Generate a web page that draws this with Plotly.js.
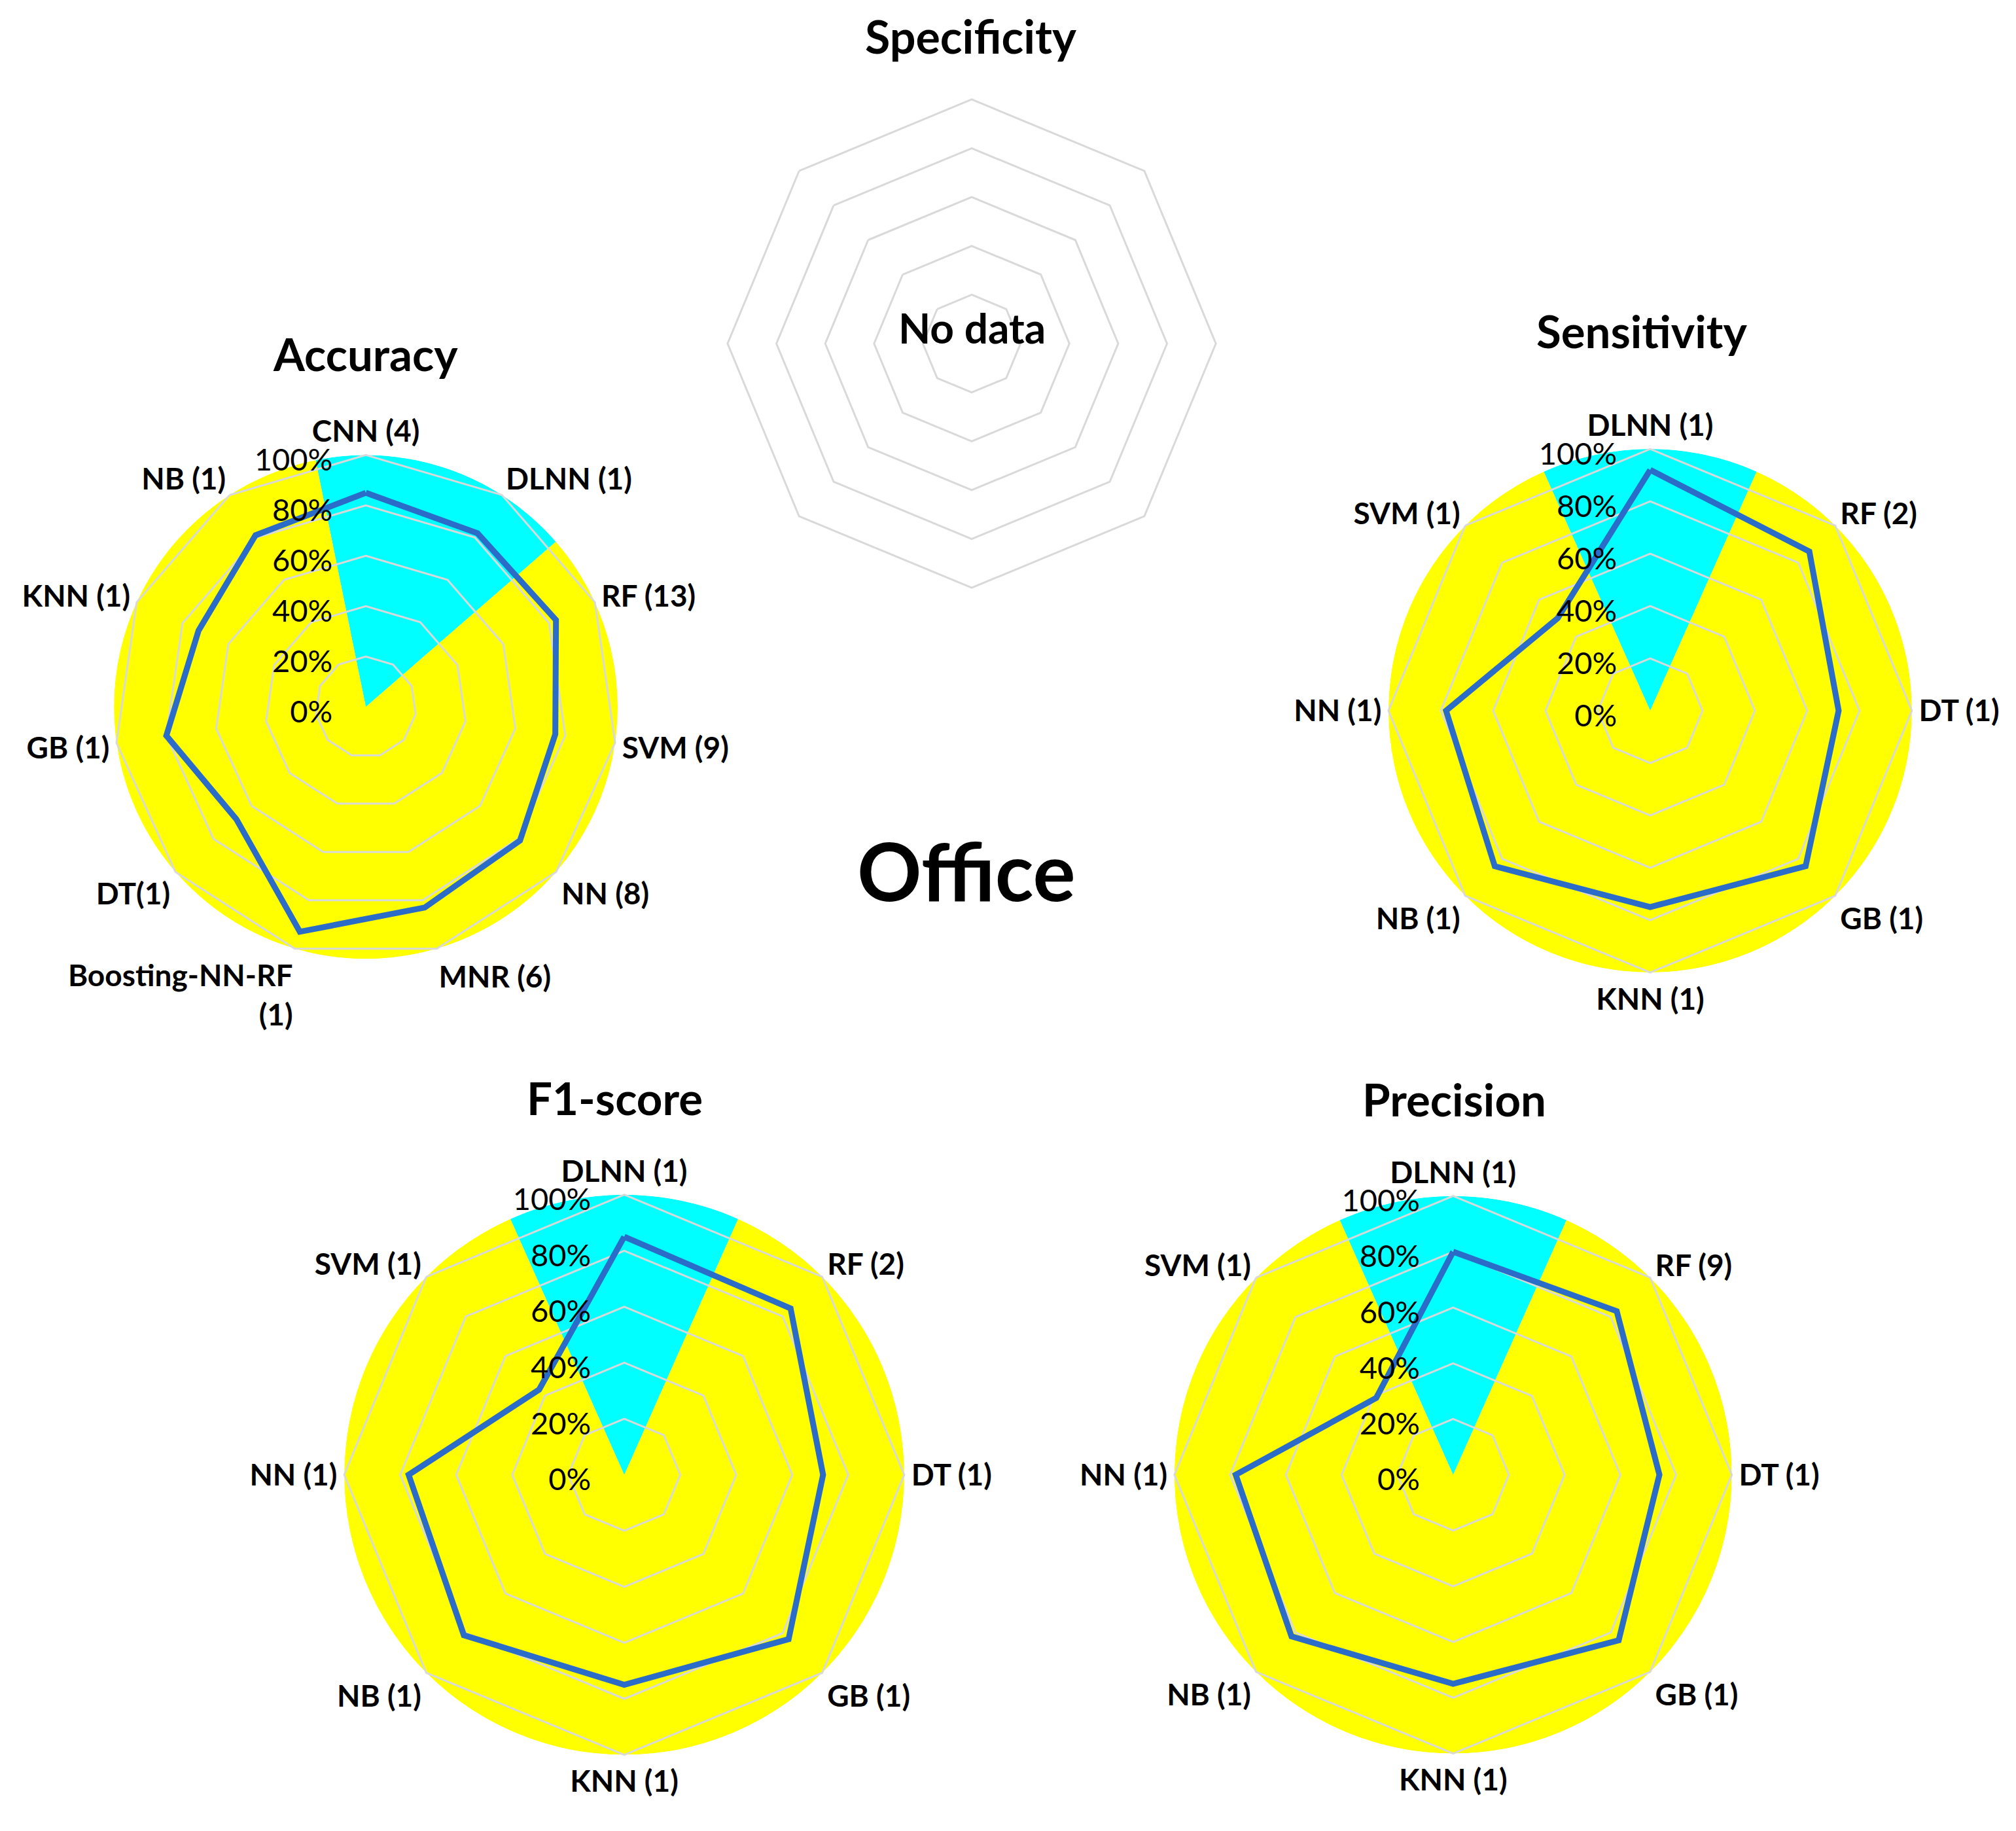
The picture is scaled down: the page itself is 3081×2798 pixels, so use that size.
<!DOCTYPE html>
<html>
<head>
<meta charset="utf-8">
<script src="https://cdn.plot.ly/plotly-3.0.1.min.js"></script>
<style>
  body { margin: 0; background: #fff; }
  #chart { width: 3081px; height: 2798px; }
</style>
</head>
<body>
<div id="chart"></div>
<script>
// values (share of 100%)
var accCats = ['CNN (4)', 'DLNN (1)', 'RF (13)', 'SVM (9)', 'NN (8)', 'MNR (6)',
               'Boosting-NN-RF<br>(1)', 'DT(1)', 'GB (1)', 'KNN (1)', 'NB (1)'];
var accVals = [0.85, 0.82, 0.83, 0.76, 0.81, 0.83, 0.93, 0.68, 0.80, 0.73, 0.81];

var sensCats = ['DLNN (1)', 'RF (2)', 'DT (1)', 'GB (1)', 'KNN (1)', 'NB (1)', 'NN (1)', 'SVM (1)'];
var sensVals = [0.92, 0.86, 0.72, 0.84, 0.75, 0.84, 0.78, 0.50];

var f1Cats = ['DLNN (1)', 'RF (2)', 'DT (1)', 'GB (1)', 'KNN (1)', 'NB (1)', 'NN (1)', 'SVM (1)'];
var f1Vals = [0.85, 0.84, 0.71, 0.83, 0.75, 0.81, 0.77, 0.43];

var precCats = ['DLNN (1)', 'RF (9)', 'DT (1)', 'GB (1)', 'KNN (1)', 'NB (1)', 'NN (1)', 'SVM (1)'];
var precVals = [0.80, 0.83, 0.74, 0.84, 0.75, 0.82, 0.78, 0.39];

// specificity has no data, only the empty octagon grid
var specCats = ['s1', 's2', 's3', 's4', 's5', 's6', 's7', 's8'];

var pctTicks = [0, 0.2, 0.4, 0.6, 0.8, 1];
var pctLabels = ['0%', '20%', '40%', '60%', '80%', '100%'];

// cyan pie slice behind each radar, degrees clockwise from the top
var accWedge = [-11.5, 49];
var sensWedge = [-24, 24];
var f1Wedge = [-24, 24];
var precWedge = [-24, 24];

var FONT = 'Lato, "Open Sans", sans-serif';
var GRID = '#d9d9d9';

var charts = [
  {cats: accCats, vals: accVals, wedge: accWedge, x: [0.0565, 0.3064], y: [0.4763, 0.7515]},
  {cats: sensCats, vals: sensVals, wedge: sensWedge, x: [0.6887, 0.9484], y: [0.4689, 0.7548]},
  {cats: f1Cats, vals: f1Vals, wedge: f1Wedge, x: [0.1707, 0.4486], y: [0.0416, 0.3475]},
  {cats: precCats, vals: precVals, wedge: precWedge, x: [0.5825, 0.8591], y: [0.0423, 0.3468]}
];

var data = [];
var layout = {
  width: 3081,
  height: 2798,
  margin: {l: 0, r: 0, t: 0, b: 0},
  paper_bgcolor: '#fff',
  showlegend: false,
  font: {family: FONT, color: '#000'},
  annotations: []
};

charts.forEach(function(c, i) {
  var pieKey = i === 0 ? 'polar' : 'polar' + (2 * i + 1);
  var webKey = 'polar' + (2 * i + 2);
  var span = c.wedge[1] - c.wedge[0];
  var mid = (c.wedge[0] + c.wedge[1]) / 2;

  // pie underneath: cyan slice + yellow rest
  data.push({
    type: 'barpolar',
    subplot: pieKey,
    r: [1, 1],
    theta: [mid, mid + 180],
    width: [span, 360 - span],
    marker: {color: ['#00ffff', '#ffff00'], line: {width: 0}},
    hoverinfo: 'skip'
  });

  // radar line on top
  data.push({
    type: 'scatterpolar',
    subplot: webKey,
    r: c.vals.concat([c.vals[0]]),
    theta: c.cats.concat([c.cats[0]]),
    mode: 'lines',
    line: {color: '#2a6cc8', width: 9},
    hoverinfo: 'skip'
  });

  layout[pieKey] = {
    domain: {x: c.x, y: c.y},
    bgcolor: 'rgba(0,0,0,0)',
    bargap: 0,
    radialaxis: {visible: false, range: [0, 1]},
    angularaxis: {visible: false, type: 'linear', rotation: 90, direction: 'clockwise'}
  };

  layout[webKey] = {
    domain: {x: c.x, y: c.y},
    bgcolor: 'rgba(0,0,0,0)',
    gridshape: 'linear',
    radialaxis: {
      range: [0, 1],
      angle: 90,
      side: 'counterclockwise',
      tickvals: pctTicks,
      ticktext: pctLabels,
      tickfont: {size: 47, family: FONT, color: '#000'},
      showline: false,
      ticks: 'outside',
      ticklen: 8,
      tickcolor: 'rgba(0,0,0,0)',
      showgrid: true,
      gridcolor: GRID,
      gridwidth: 3
    },
    angularaxis: {
      rotation: 90,
      direction: 'clockwise',
      showgrid: false,
      showline: true,
      linecolor: GRID,
      linewidth: 3,
      ticks: '',
      tickfont: {size: 46, family: FONT, color: '#000', weight: 'bold'}
    }
  };
});

// empty specificity web
data.push({
  type: 'scatterpolar',
  subplot: 'polar9',
  r: specCats.map(function() { return null; }),
  theta: specCats,
  mode: 'lines',
  hoverinfo: 'skip'
});
layout.polar9 = {
  domain: {x: [0.3609, 0.6031], y: [0.679, 0.9457]},
  bgcolor: 'rgba(0,0,0,0)',
  gridshape: 'linear',
  radialaxis: {
    range: [0, 1], angle: 90, tickvals: pctTicks, showticklabels: false,
    showline: false, ticks: '', gridcolor: GRID, gridwidth: 3
  },
  angularaxis: {
    rotation: 90, direction: 'clockwise', showgrid: false, showticklabels: false,
    ticks: '', showline: true, linecolor: GRID, linewidth: 3
  }
};

function label(text, x, y, size) {
  layout.annotations.push({
    text: text, x: x, y: y, xref: 'paper', yref: 'paper',
    xanchor: 'center', yanchor: 'middle', showarrow: false,
    font: {size: size, family: FONT, color: '#000', weight: 'bold'}
  });
}
label('Specificity', 0.4815, 0.9805, 70);
label('Accuracy', 0.1814, 0.807, 69);
label('Sensitivity', 0.8145, 0.8195, 69);
label('F1-score', 0.305, 0.4005, 69);
label('Precision', 0.7215, 0.3998, 69);
label('No data', 0.482, 0.8213, 64);
label('Office', 0.4794, 0.5245, 122);

Plotly.newPlot('chart', data, layout, {staticPlot: true});
</script>
</body>
</html>
